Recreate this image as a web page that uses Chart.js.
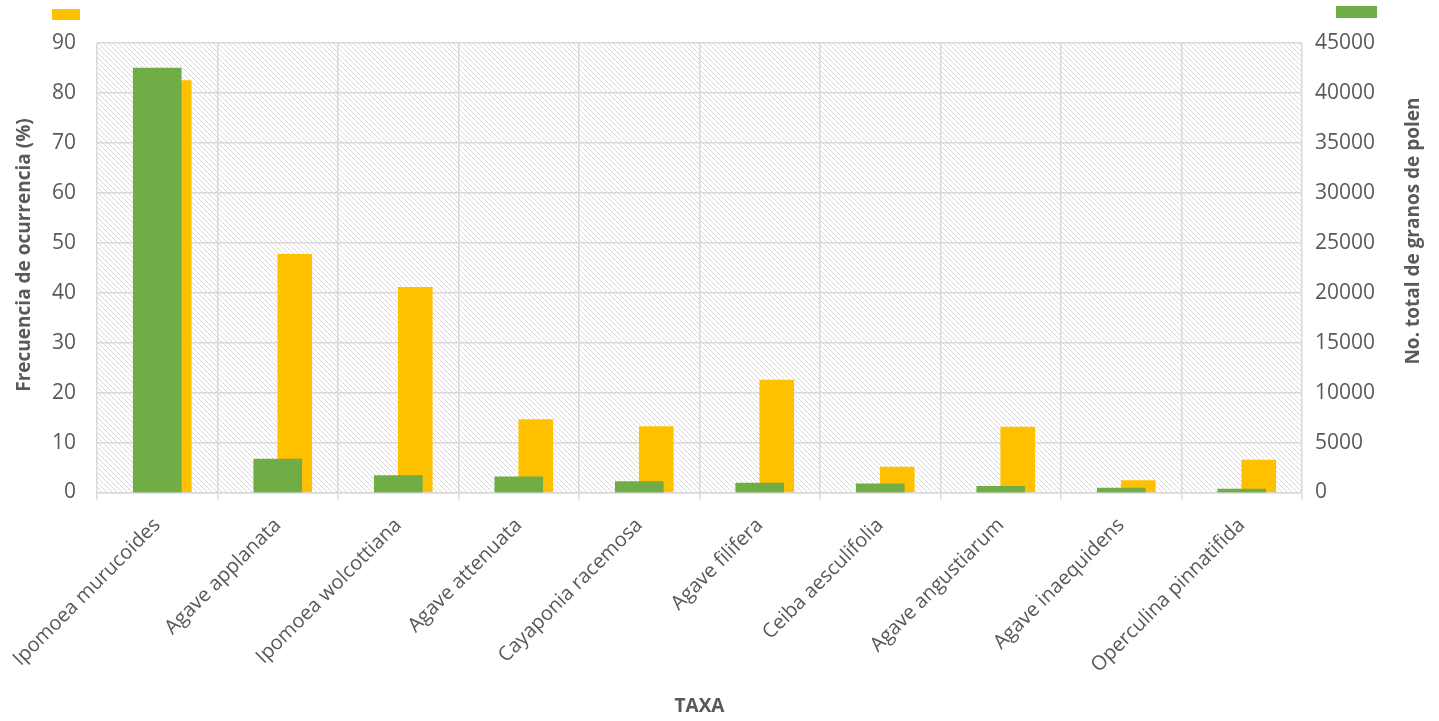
<!DOCTYPE html>
<html>
<head>
<meta charset="utf-8">
<script src="https://cdn.jsdelivr.net/npm/chart.js@4"></script>
<style>
    html, body { margin: 0; padding: 0; background: #ffffff; }
    #wrap { width: 1439px; height: 721px; position: relative; }
</style>
</head>
<body>
<div id="wrap"><canvas id="chart"></canvas></div>
<script>
const categorias = [
    'Ipomoea murucoides', 'Agave applanata', 'Ipomoea wolcottiana', 'Agave attenuata',
    'Cayaponia racemosa', 'Agave filifera', 'Ceiba aesculifolia', 'Agave angustiarum',
    'Agave inaequidens', 'Operculina pinnatifida'
];
const frecuencia = [82.5, 47.7, 41.1, 14.6, 13.2, 22.5, 5.1, 13.1, 2.4, 6.5];
const granosPolen = [42500, 3350, 1700, 1570, 1100, 950, 880, 620, 450, 350];

const tituloIzq = 'Frecuencia de ocurrencia (%)';
const tituloDer = 'No. total de granos de polen';

const textColor = '#595959';
const gridColor = '#d9d9d9';
const fontFamily = "'Open Sans', sans-serif";

// fondo rayado del area de trazado
function makeHatch(ctx) {
    const c = document.createElement('canvas');
    c.width = 5; c.height = 5;
    const g = c.getContext('2d');
    g.fillStyle = '#ffffff';
    g.fillRect(0, 0, 5, 5);
    g.fillStyle = '#d9d9d9';
    for (let i = 0; i < 5; i++) g.fillRect(i, i, 1, 1);
    return ctx.createPattern(c, 'repeat');
}

const hatchPlugin = {
    id: 'hatch',
    beforeDraw(chart) {
        const { ctx, chartArea: a } = chart;
        ctx.save();
        ctx.fillStyle = makeHatch(ctx);
        ctx.fillRect(a.left, a.top, a.right - a.left, a.bottom - a.top);
        ctx.restore();
    }
};

// titulos de ejes verticales (ambos leidos de abajo hacia arriba) y marcas de leyenda
const extras = {
    id: 'extras',
    afterDraw(chart) {
        const ctx = chart.ctx;
        ctx.save();
        ctx.fillStyle = textColor;
        ctx.font = "bold 19px 'Open Sans', sans-serif";
        ctx.textAlign = 'center';
        ctx.textBaseline = 'middle';

        ctx.save();
        ctx.translate(25, 255);
        ctx.rotate(-Math.PI / 2);
        ctx.fillText(tituloIzq, 0, 0);
        ctx.restore();

        ctx.save();
        ctx.translate(1414, 231);
        ctx.rotate(-Math.PI / 2);
        ctx.fillText(tituloDer, 0, 0);
        ctx.restore();

        ctx.fillStyle = '#FFC000';
        ctx.fillRect(52, 9, 28, 11);
        ctx.fillStyle = '#70AD47';
        ctx.fillRect(1336, 6, 41, 12);
        ctx.restore();
    }
};

const shift = 17 / 120.5;

new Chart(document.getElementById('chart'), {
    type: 'bar',
    data: {
        labels: categorias,
        datasets: [
            {
                label: tituloDer,
                data: granosPolen,
                backgroundColor: '#70AD47',
                yAxisID: 'y1',
                xAxisID: 'x',
                grouped: false,
                barThickness: 48
            },
            {
                label: tituloIzq,
                data: frecuencia.map((v, i) => ({ x: i, y: v })),
                backgroundColor: '#FFC000',
                yAxisID: 'y',
                xAxisID: 'x2',
                grouped: false,
                barThickness: 34
            }
        ]
    },
    options: {
        responsive: true,
        maintainAspectRatio: false,
        animation: false,
        layout: { padding: { top: 43, left: 0, right: 0, bottom: 0 } },
        plugins: {
            legend: { display: false },
            tooltip: { enabled: false }
        },
        scales: {
            x: {
                type: 'category',
                offset: true,
                grid: { offset: true, color: gridColor, lineWidth: 1.5, tickLength: 7 },
                border: { color: gridColor, width: 1.5 },
                ticks: {
                    color: textColor,
                    font: { family: fontFamily, size: 20 },
                    maxRotation: 45, minRotation: 45,
                    padding: 14,
                    autoSkip: false
                },
                title: {
                    display: true, text: 'TAXA', color: textColor,
                    font: { family: fontFamily, size: 19, weight: 'bold' },
                    padding: { top: 0, bottom: 3 }
                },
                afterFit: s => { s.height = 228.5; s.paddingLeft = 0; s.paddingRight = 0; }
            },
            x2: {
                type: 'linear',
                display: false,
                offset: false,
                bounds: 'data',
                min: -0.5 - shift,
                max: 9.5 - shift
            },
            y: {
                position: 'left',
                min: 0, max: 90,
                ticks: {
                    stepSize: 10, color: textColor, padding: 21,
                    font: { family: fontFamily, size: 21 }
                },
                grid: { color: gridColor, lineWidth: 1.5, drawTicks: false },
                border: { display: false },
                afterFit: s => { s.width = 97; }
            },
            y1: {
                position: 'right',
                min: 0, max: 45000,
                ticks: {
                    stepSize: 5000, color: textColor, padding: 13,
                    font: { family: fontFamily, size: 21 },
                    callback: v => String(v)
                },
                grid: { display: false, drawTicks: false },
                border: { display: false },
                afterFit: s => { s.width = 137; }
            }
        }
    },
    plugins: [hatchPlugin, extras]
});
</script>
</body>
</html>
